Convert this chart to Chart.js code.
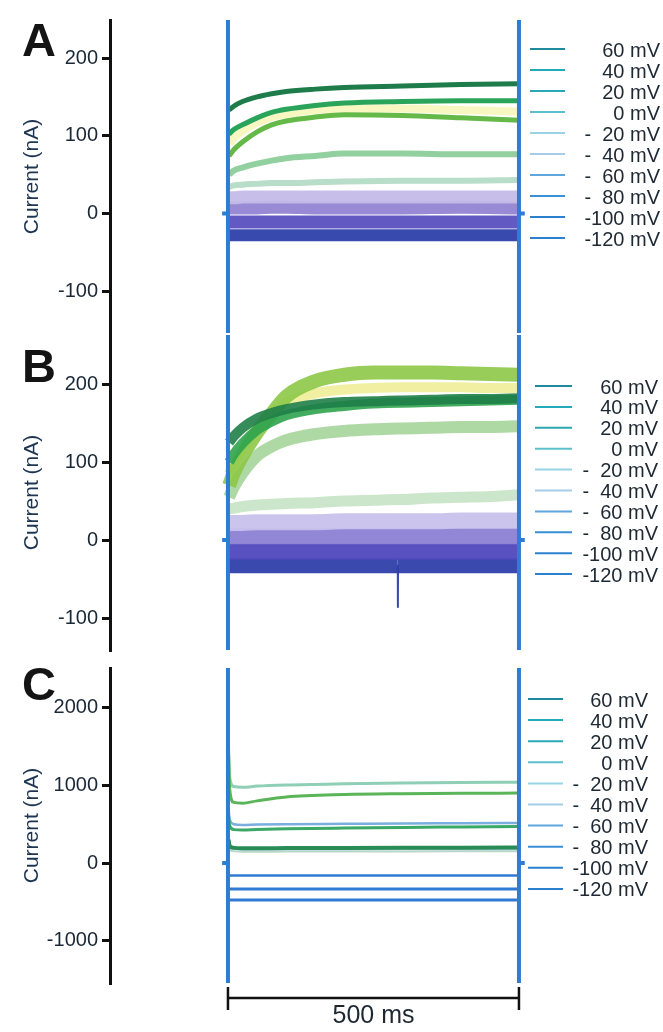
<!DOCTYPE html>
<html>
<head>
<meta charset="utf-8">
<title>Voltage-step currents</title>
<script src="https://cdn.jsdelivr.net/npm/chart.js@4.4.0/dist/chart.umd.min.js"></script>
<style>
  html, body { margin: 0; padding: 0; background: #fff; }
  #fig { position: relative; width: 663px; height: 1032px; overflow: hidden; }
  #fig canvas { position: absolute; left: 0; }
</style>
</head>
<body>
<div id="fig">
  <canvas id="chartA" width="663" height="336" style="top:0px"></canvas>
  <canvas id="chartB" width="663" height="325" style="top:330px"></canvas>
  <canvas id="chartC" width="663" height="380" style="top:652px"></canvas>
</div>
<script>
// step potentials, top to bottom of each legend
var voltages = ['60 mV', '40 mV', '20 mV', '0 mV', '-  20 mV', '-  40 mV', '-  60 mV', '-  80 mV', '-100 mV', '-120 mV'];

// y tick labels
var ticksAB = [-100, 0, 100, 200];
var ticksC = [-1000, 0, 1000, 2000];

// panel A: time (ms) and current (nA) per step
var tA = [2, 10, 25, 50, 75, 100, 150, 200, 300, 400, 500];
var a60 = [133, 138, 144, 150, 154, 157, 160, 162, 164, 166, 167];
var a40 = [102, 108, 114, 123, 130, 134, 139, 142, 144, 145, 145];
var a20 = [74, 82, 92, 105, 114, 119, 124, 127, 126, 123, 120];
var a0 = [90, 97, 106, 117, 124, 128, 133, 135, 135, 133, 131];
var aM20 = [50, 55, 59, 64, 68, 71, 74, 77, 77, 76, 76];
var aM40 = [34, 36, 37, 38, 39, 39, 40, 41, 42, 42, 43];
var aM60 = [20, 20, 21, 21, 21, 21, 21, 21, 21, 21, 21];
var aM80 = [7, 7, 7, 7, 8, 8, 7, 7, 7, 8, 7];
var aM100 = [-11, -11, -11, -11, -11, -11, -11, -11, -11, -11, -11];
var aM120 = [-28, -28, -28, -28, -28, -28, -28, -28, -28, -28, -28];

// panel B
var tB = [2, 10, 25, 50, 75, 100, 150, 200, 250, 291.8, 292, 292.2, 350, 400, 450, 500];
var b60 = [125, 133, 144, 156, 163, 168, 174, 177, 178, 179, 179, 179, 180, 181, 181, 182];
var b40 = [100, 110, 124, 141, 152, 160, 168, 172, 175, 176, 176, 176, 177, 178, 179, 180];
var b20 = [70, 86, 108, 138, 162, 184, 204, 212, 215, 215, 215, 215, 215, 214, 213, 212];
var b0 = [85, 98, 117, 144, 162, 176, 188, 193, 195, 196, 196, 196, 196, 196, 195, 195];
var bM20 = [55, 68, 86, 108, 120, 128, 136, 140, 142, 143, 143, 143, 144, 145, 145, 146];
var bM40 = [40, 41, 43, 45, 46, 47, 48, 50, 51, 52, 52, 52, 54, 55, 56, 58];
var bM60 = [22, 22, 22, 23, 23, 23, 23, 24, 24, 24, 24, 24, 24, 25, 25, 25];
var bM80 = [5, 5, 5, 5, 5, 5, 5, 5, 5, 5, 5, 5, 5, 5, 5, 5];
var bM100 = [-15, -15, -15, -15, -15, -15, -15, -15, -15, -15, -15, -15, -15, -15, -15, -15];
var bM120 = [-33, -33, -33, -33, -33, -33, -33, -33, -33, -33, -86, -33, -33, -33, -33, -33];

// panel C
var tC = [1, 3, 10, 25, 50, 100, 200, 300, 400, 500];
var c60 = [300, 220, 195, 190, 190, 192, 195, 197, 198, 200];
var c40 = [600, 480, 430, 425, 432, 440, 450, 458, 464, 470];
var c20 = [1400, 950, 780, 770, 800, 850, 882, 893, 898, 900];
var c0 = [1500, 1100, 985, 975, 990, 1005, 1020, 1030, 1036, 1040];
var cM20 = [700, 560, 500, 490, 495, 500, 505, 510, 512, 515];
var cM40 = [260, 200, 178, 172, 172, 173, 175, 176, 177, 178];
var cM60 = [230, 170, 150, 146, 146, 147, 148, 149, 150, 150];
var cM80 = [-160, -160, -160, -160, -160, -160, -160, -160, -160, -160];
var cM100 = [-335, -335, -335, -335, -335, -335, -335, -335, -335, -335];
var cM120 = [-476, -476, -476, -476, -476, -476, -476, -476, -476, -476];

// capacitive transients at step on/off (values run off scale)
var tArt = [-10, 0, 0, 0, 250, 500, 500, 500, 510];
var artA = [0, 0, 400, -300, null, 400, -300, 0, 0];
var artB = [0, 0, 400, -300, null, 400, -300, 0, 0];
var artC = [0, 0, 4000, -3000, null, 4000, -3000, 0, 0];

var scaleBarMs = 500;

// styling
var FONT = '"Liberation Sans", Arial, Helvetica, sans-serif';
var legendColors = ['#1e8a9c', '#22aab8', '#2aa8b4', '#5cc0cc', '#98d4e4', '#a6cce8', '#5ea6dc', '#3b8fd6', '#2b80d0', '#2b80d0'];
var colorsA = ['#1d7c4a', '#2aa45a', '#64b948', 'rgba(240,238,120,0.45)', '#92d0a0', '#b8ddc8', 'rgba(196,188,232,0.95)', 'rgba(146,132,210,0.95)', 'rgba(90,80,192,0.95)', 'rgba(45,64,170,0.95)'];
var widthsA = [5, 5, 5, 8, 6, 6, 13, 13, 13, 12];
var colorsB = ['rgba(31,128,72,0.9)', 'rgba(46,163,78,0.9)', 'rgba(140,200,70,0.9)', 'rgba(232,230,100,0.6)', 'rgba(166,213,154,0.9)', 'rgba(197,227,196,0.9)', 'rgba(200,194,236,0.95)', 'rgba(140,128,212,0.95)', 'rgba(80,72,188,0.95)', 'rgba(47,63,170,0.95)'];
var widthsB = [10, 10, 14, 10, 12, 11, 16, 16, 16, 15];
var colorsC = ['#2a8c55', '#3aa866', '#5ab458', '#8fcfb5', '#7aaede', '#a8cce0', '#b8d8c8', '#2f7bd4', '#2f7bd4', '#2f7bd4'];
var widthsC = [4, 3, 3, 3, 2.5, 2, 2, 2.5, 3, 3];
var artColor = '#2d7dd2';
var spikeIndexB = 10;

function series(t, v) {
  return t.map(function (x, i) { return { x: x, y: v[i] }; });
}

function makeDatasets(t, traces, colors, widths, art, spikeAt) {
  var ds = [{
    label: 'transient',
    data: series(tArt, art),
    borderColor: artColor,
    borderWidth: 4,
    pointRadius: 0,
    spanGaps: false
  }];
  traces.forEach(function (v, i) {
    var d = {
      label: voltages[i],
      data: series(t, v),
      borderColor: colors[i],
      borderWidth: widths[i],
      pointRadius: 0,
      cubicInterpolationMode: 'monotone',
      borderJoinStyle: 'round'
    };
    // a single fast glitch: straight segments, drawn thin rather than as a noise band
    if (spikeAt !== undefined && i === traces.length - 1) {
      d.cubicInterpolationMode = 'default';
      d.tension = 0;
      d.segment = {
        borderWidth: function (c) {
          return (c.p0DataIndex === spikeAt || c.p1DataIndex === spikeAt) ? 2 : undefined;
        }
      };
    }
    ds.push(d);
  });
  return ds;
}

// panel letter, legend, time scale bar
var figureExtras = {
  id: 'figureExtras',
  afterDatasetsDraw: function (chart, args, o) {
    var ctx = chart.ctx;
    ctx.save();
    ctx.fillStyle = '#141414';
    ctx.font = 'bold 47px ' + FONT;
    ctx.textAlign = 'left';
    ctx.textBaseline = 'alphabetic';
    ctx.fillText(o.letter, 22, o.letterBase - o.top);

    ctx.font = '20px ' + FONT;
    ctx.textAlign = 'right';
    ctx.textBaseline = 'middle';
    voltages.forEach(function (lab, i) {
      var y = o.legendY + i * o.legendStep - o.top;
      ctx.strokeStyle = legendColors[i];
      ctx.lineWidth = 2;
      ctx.beginPath();
      ctx.moveTo(o.lineX0, y);
      ctx.lineTo(o.lineX1, y);
      ctx.stroke();
      ctx.fillStyle = '#1d2833';
      ctx.fillText(lab, o.textRight, y + 2);
    });

    if (o.scaleBar) {
      var xs = chart.scales.x;
      var x0 = xs.getPixelForValue(0), x1 = xs.getPixelForValue(scaleBarMs);
      var yb = 998 - o.top;
      ctx.strokeStyle = '#111';
      ctx.lineWidth = 2.5;
      ctx.beginPath();
      ctx.moveTo(x0, yb); ctx.lineTo(x1, yb);
      ctx.moveTo(x0, yb - 11); ctx.lineTo(x0, yb + 12);
      ctx.moveTo(x1, yb - 11); ctx.lineTo(x1, yb + 12);
      ctx.stroke();
      ctx.fillStyle = '#1d2833';
      ctx.font = '25px ' + FONT;
      ctx.textAlign = 'center';
      ctx.textBaseline = 'middle';
      ctx.fillText(scaleBarMs + ' ms', (x0 + x1) / 2, 1016 - o.top);
    }
    ctx.restore();
  }
};

function makeChart(id, datasets, yMin, yMax, tickVals, pad, extras) {
  return new Chart(document.getElementById(id), {
    type: 'line',
    data: { datasets: datasets },
    options: {
      responsive: false,
      animation: false,
      events: [],
      layout: { padding: { top: pad[0], bottom: pad[1], left: 0, right: 0 } },
      scales: {
        x: { type: 'linear', display: false, min: -202.7, max: 747.5 },
        y: {
          min: yMin,
          max: yMax,
          afterFit: function (s) {
            s.width = 110;
            s.paddingTop = 0;
            s.paddingBottom = 0;
          },
          afterBuildTicks: function (s) {
            s.ticks = tickVals.map(function (v) { return { value: v }; });
          },
          border: { display: true, color: '#111', width: 3 },
          grid: { drawOnChartArea: false, drawTicks: true, tickLength: 8, color: '#111', lineWidth: 3 },
          ticks: {
            padding: 4,
            color: '#1b2836',
            font: { family: FONT, size: 20 },
            callback: function (v) { return String(v); }
          },
          title: {
            display: true,
            text: 'Current (nA)',
            color: '#1e3552',
            font: { family: FONT, size: 21 },
            padding: { top: 20, bottom: 0 }
          }
        }
      },
      plugins: {
        legend: { display: false },
        tooltip: { enabled: false },
        figureExtras: extras
      }
    },
    plugins: [figureExtras]
  });
}

makeChart('chartA',
  makeDatasets(tA, [a60, a40, a20, a0, aM20, aM40, aM60, aM80, aM100, aM120], colorsA, widthsA, artA),
  -154, 249, ticksAB, [20, 3],
  { letter: 'A', letterBase: 56, top: 0, legendY: 49, legendStep: 21, lineX0: 530, lineX1: 565, textRight: 660 });

makeChart('chartB',
  makeDatasets(tB, [b60, b40, b20, b0, bM20, bM40, bM60, bM80, bM100, bM120], colorsB, widthsB, artB, spikeIndexB),
  -141, 263, ticksAB, [5, 5],
  { letter: 'B', letterBase: 382, top: 330, legendY: 386, legendStep: 20.9, lineX0: 535, lineX1: 572, textRight: 658 });

makeChart('chartC',
  makeDatasets(tC, [c60, c40, c20, c0, cM20, cM40, cM60, cM80, cM100, cM120], colorsC, widthsC, artC),
  -1544, 2510, ticksC, [16, 49],
  { letter: 'C', letterBase: 700, top: 652, legendY: 699, legendStep: 21.1, lineX0: 528, lineX1: 563, textRight: 648, scaleBar: true });
</script>
</body>
</html>
